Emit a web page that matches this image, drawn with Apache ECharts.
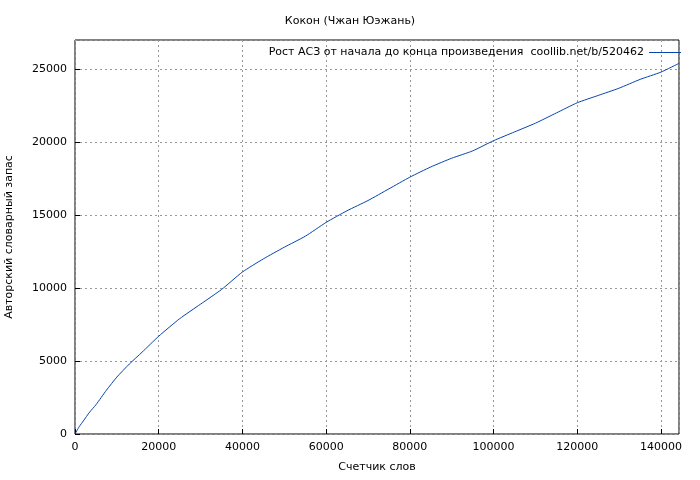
<!DOCTYPE html>
<html><head><meta charset="utf-8">
<script src="https://cdn.jsdelivr.net/npm/echarts@6/dist/echarts.min.js"></script>
</head><body style="margin:0">
<div id="c" style="width:700px;height:480px"></div>
<script>
const xs = [0,1000,2000,3500,5000,7500,10000,13000,16000,20000,25000,30000,35000,40000,45000,50000,55000,60000,65000,70000,75000,80000,85000,90000,95000,100000,105000,110000,115000,120000,125000,130000,135000,140000,144300];
const ys = [0,500,900,1500,2000,3000,3900,4800,5600,6700,7900,8900,9900,11100,12000,12800,13550,14500,15300,16000,16800,17600,18300,18900,19400,20100,20700,21300,22000,22700,23200,23700,24300,24800,25400];
const title = 'Кокон (Чжан Юэжань)';
const seriesName = 'Рост АСЗ от начала до конца произведения  coollib.net/b/520462';
const font = 'DejaVu Sans';
const ch = echarts.init(document.getElementById('c'));
ch.setOption({
  backgroundColor:'#fff',
  textStyle:{fontFamily:font},
  title:{text:title,left:'center',top:11,textStyle:{fontSize:11,fontWeight:'normal',color:'#000',fontFamily:font}},
  legend:{top:42,right:14,align:'right',itemWidth:32,itemHeight:1,icon:'rect',
    textStyle:{fontSize:11,color:'#000',fontFamily:font},data:[seriesName]},
  grid:{left:75,right:21,top:40,bottom:46,containLabel:false,outerBoundsMode:'none',show:true,borderColor:'#000',borderWidth:1},
  xAxis:{type:'value',min:0,max:144300,interval:20000,name:'Счетчик слов',nameLocation:'middle',nameGap:28,
    nameTextStyle:{fontSize:11,color:'#000'},
    axisLine:{show:false},axisTick:{inside:true,lineStyle:{color:'#000'}},
    axisLabel:{color:'#000',fontSize:11,showMaxLabel:false,formatter:v=>String(v)},
    splitLine:{lineStyle:{type:[2,3],color:'#999'}}},
  yAxis:{type:'value',min:0,max:27000,interval:5000,name:'Авторский словарный запас',nameLocation:'middle',nameGap:60,
    nameTextStyle:{fontSize:11,color:'#000'},
    axisLine:{show:false},axisTick:{inside:true,lineStyle:{color:'#000'}},
    axisLabel:{color:'#000',fontSize:11,showMaxLabel:false,formatter:v=>String(v)},
    splitLine:{lineStyle:{type:[2,3],color:'#999'}}},
  series:[{name:seriesName,type:'line',smooth:0.2,symbol:'none',
    lineStyle:{color:'#0645ad',width:1},itemStyle:{color:'#0645ad'},
    data:xs.map((x,i)=>[x,ys[i]])}]
});
</script></body></html>
